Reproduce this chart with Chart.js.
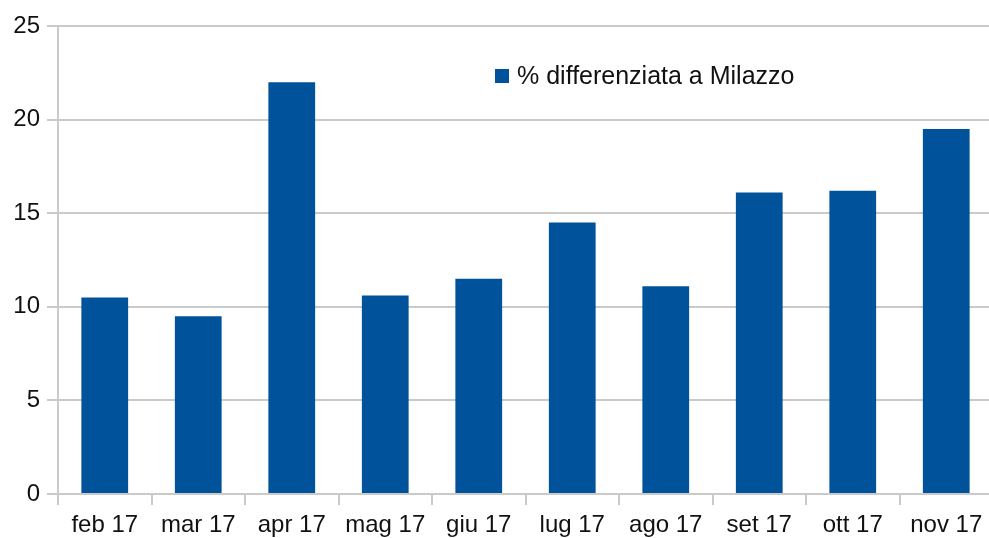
<!DOCTYPE html>
<html>
<head>
<meta charset="utf-8">
<script src="https://cdn.jsdelivr.net/npm/chart.js@4/dist/chart.umd.min.js"></script>
<style>
  html, body { margin: 0; padding: 0; background: #fff; overflow: hidden; }
  #wrap { width: 996px; height: 538px; }
</style>
</head>
<body>
<div id="wrap"><canvas id="chart" width="996" height="538"></canvas></div>
<script>
// Data
const months = ['feb 17', 'mar 17', 'apr 17', 'mag 17', 'giu 17', 'lug 17', 'ago 17', 'set 17', 'ott 17', 'nov 17'];
const percentDiff = [10.5, 9.5, 22, 10.6, 11.5, 14.5, 11.1, 16.1, 16.2, 19.5];
const seriesName = '% differenziata a Milazzo';
const yTicks = [0, 5, 10, 15, 20, 25];

const barColor = '#00539b';
const gridColor = '#cacaca';
const textColor = '#111111';
const fontFamily = '"Liberation Sans", Arial, sans-serif';

// Legend drawn inside the plot, like the original
const insideLegend = {
    id: 'insideLegend',
    afterDraw(chart) {
        const ctx = chart.ctx;
        const ds = chart.data.datasets[0];
        ctx.save();
        ctx.fillStyle = ds.backgroundColor;
        ctx.fillRect(495, 69, 14, 14);
        ctx.fillStyle = textColor;
        ctx.font = '25px ' + fontFamily;
        ctx.textBaseline = 'middle';
        ctx.fillText(ds.label, 517, 77);
        ctx.restore();
    }
};

new Chart(document.getElementById('chart'), {
    type: 'bar',
    data: {
        labels: months,
        datasets: [{
            label: seriesName,
            data: percentDiff,
            backgroundColor: barColor,
            barPercentage: 0.5,
            categoryPercentage: 1.0
        }]
    },
    options: {
        responsive: false,
        animation: false,
        layout: { padding: { top: 26, right: 3, left: 0, bottom: 0 } },
        plugins: {
            legend: { display: false },
            tooltip: { enabled: false }
        },
        scales: {
            x: {
                grid: { display: true, drawOnChartArea: false, drawTicks: true, tickLength: 11, color: gridColor, lineWidth: 2 },
                border: { display: true, color: gridColor, width: 2 },
                ticks: { color: textColor, font: { family: fontFamily, size: 24 }, padding: 6, maxRotation: 0, autoSkip: false },
                afterFit(scale) { scale.height = 44; }
            },
            y: {
                min: 0,
                max: 25,
                afterBuildTicks(scale) { scale.ticks = yTicks.map(v => ({ value: v })); },
                grid: { color: gridColor, lineWidth: 2, drawTicks: true, tickLength: 11 },
                border: { display: true, color: gridColor, width: 2 },
                ticks: { color: textColor, font: { family: fontFamily, size: 24 }, padding: 7 },
                afterFit(scale) { scale.width = 58; }
            }
        }
    },
    plugins: [insideLegend]
});
</script>
</body>
</html>
